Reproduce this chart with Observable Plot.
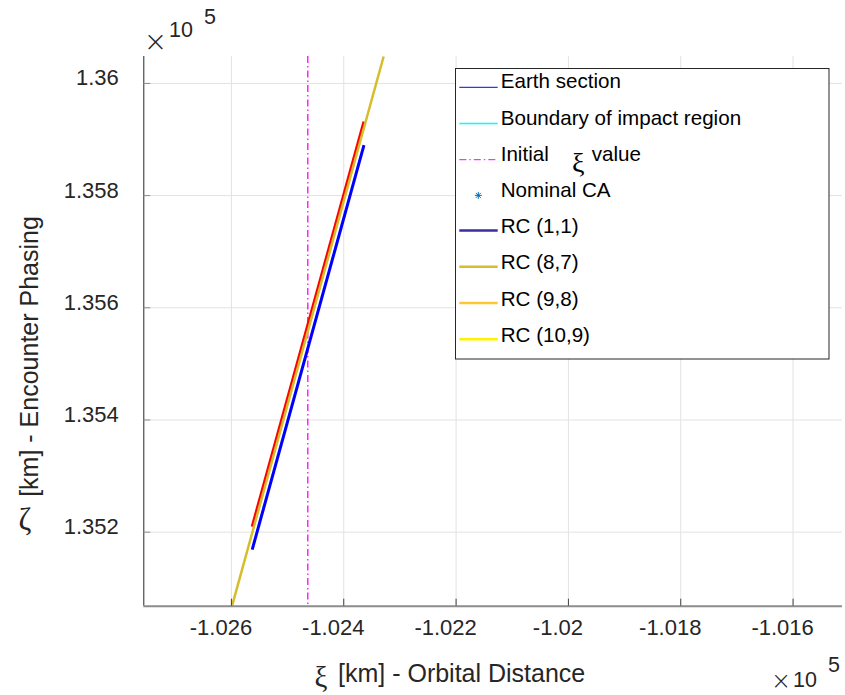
<!DOCTYPE html>
<html>
<head>
<meta charset="utf-8">
<script src="https://cdn.jsdelivr.net/npm/d3@7"></script>
<script src="https://cdn.jsdelivr.net/npm/@observablehq/plot@0.6"></script>
<style>
  html, body { margin: 0; padding: 0; background: #ffffff; }
  svg { display: block; }
</style>
</head>
<body>
<script>
// ---------- data (km) ----------
const xiTicks = [-102600, -102400, -102200, -102000, -101800, -101600];
const zetaTicks = [135200, 135400, 135600, 135800, 136000];
const xiDomain = [-102756, -101512];
const zetaDomain = [135068, 136048];

const initialXi = [-102464];

// RC (8,7) long line (gold)
const rc87Xi = [-102599, -102329];
const rc87Zeta = [135068, 136048];
// red segment
const redXi = [-102563, -102364];
const redZeta = [135210, 135932];
// blue segment
const blueXi = [-102563, -102364];
const blueZeta = [135169, 135890];

const legendLabels = ["Earth section", "Boundary of impact region", "Initial", "Nominal CA",
  "RC (1,1)", "RC (8,7)", "RC (9,8)", "RC (10,9)"];
const legendColors = ["#0000FF", "#00FFFF", "#FF00FF", "#0072BD",
  "#3A2E9E", "#D6BD2C", "#FFC533", "#FFF200"];
const legendWidths = [1, 1.5, 1, 0, 2.5, 2.5, 2.5, 2.5];

// ---------- helpers ----------
const toTable = (xs, ys) => xs.map((x, i) => ({x, y: ys[i]}));
const fmtXi = d => String(+(d / 1e5).toFixed(3));
const fmtZeta = d => String(+(d / 1e5).toFixed(3));

const W = 845, H = 695;
const mL = 143.3, mR = 3, mT = 56, mB = 89.3;
const plotW = W - mL - mR, plotH = H - mT - mB;
const font = "'Liberation Sans', Arial, Helvetica, sans-serif";
const serif = "'Liberation Serif', 'Times New Roman', 'DejaVu Serif', serif";
const ink = "#262626";

const svg = Plot.plot({
  width: W, height: H,
  marginLeft: mL, marginRight: mR, marginTop: mT, marginBottom: mB,
  x: {domain: xiDomain, axis: null},
  y: {domain: zetaDomain, axis: null},
  style: {background: "#ffffff", fontFamily: font},
  marks: [
    // grid
    Plot.ruleX(xiTicks, {stroke: "#e2e2e2", strokeWidth: 1}),
    Plot.ruleY(zetaTicks, {stroke: "#e2e2e2", strokeWidth: 1}),
    // initial xi value
    Plot.ruleX(initialXi, {stroke: "#FF00FF", strokeWidth: 1.3, strokeDasharray: "7,3,1.5,3"}),
    // data lines
    Plot.line(toTable(blueXi, blueZeta), {x: "x", y: "y", stroke: "#0000FF", strokeWidth: 3, strokeLinecap: "butt", clip: true}),
    Plot.line(toTable(redXi, redZeta), {x: "x", y: "y", stroke: "#FF0000", strokeWidth: 3, strokeLinecap: "butt", clip: true}),
    Plot.line(toTable(rc87Xi, rc87Zeta), {x: "x", y: "y", stroke: "#D6BD2C", strokeWidth: 2.5, strokeLinecap: "butt", clip: true}),
    // axis lines
    Plot.ruleX([xiDomain[0]], {stroke: ink, strokeWidth: 1}),
    Plot.ruleY([zetaDomain[0]], {stroke: "#8c8c8c", strokeWidth: 2}),
    // inward ticks
    Plot.ruleX(xiTicks, {stroke: "#404040", strokeWidth: 1, insetTop: plotH - 7}),
    Plot.ruleY(zetaTicks, {stroke: "#8c8c8c", strokeWidth: 1, insetRight: plotW - 7}),
    // tick labels
    Plot.text(xiTicks, {x: d => d, frameAnchor: "bottom", text: fmtXi, dy: 22, dx: -10.5,
      fontSize: 22, fill: ink, lineAnchor: "middle"}),
    Plot.text(zetaTicks, {y: d => d, frameAnchor: "left", text: fmtZeta, dx: -25, dy: -5,
      textAnchor: "end", fontSize: 22, fill: ink, lineAnchor: "middle"})
  ]
});

document.body.appendChild(svg);

const g = d3.select(svg).append("g").attr("font-family", font).attr("text-anchor", "start");

function txt(x, y, s, opts = {}) {
  const t = g.append("text")
    .attr("x", x).attr("y", y)
    .attr("font-size", opts.size || 20)
    .attr("fill", opts.fill || ink)
    .attr("font-family", opts.family || font)
    .attr("text-anchor", opts.anchor || "start")
    .text(s);
  if (opts.baseline) t.attr("dominant-baseline", opts.baseline);
  if (opts.weight) t.attr("font-weight", opts.weight);
  if (opts.transform) t.attr("transform", opts.transform);
  return t;
}

// axis labels
txt(314.5, 687, "ξ", {size: 29, family: serif});
txt(338, 682, "[km] - Orbital Distance", {size: 25});
txt(0, 0, "[km] - Encounter Phasing", {size: 25, anchor: "middle", transform: "translate(38,356.5) rotate(-90)"});
txt(18.5, 530, "ζ", {size: 31, family: serif});

// exponent markers
txt(155.5, 41.5, "×", {size: 28, anchor: "middle", baseline: "central", family: "'DejaVu Sans', sans-serif", weight: 200});
txt(169, 36.7, "10", {size: 21.5});
txt(204, 24, "5", {size: 21.5});
txt(781, 680.5, "×", {size: 24, anchor: "middle", baseline: "central", family: "'DejaVu Sans', sans-serif", weight: 200});
txt(793, 687, "10", {size: 21.5});
txt(828, 672, "5", {size: 21.5});

// legend
const lg = g.append("g");
lg.append("rect").attr("x", 455.5).attr("y", 68.5).attr("width", 373.5).attr("height", 290.5)
  .attr("fill", "#ffffff").attr("stroke", ink).attr("stroke-width", 1);
legendLabels.forEach((label, i) => {
  const base = 88.3 + i * 36.2;
  const ly = base - 1 - (legendWidths[i] > 2 ? 1.5 : 0);
  if (i === 3) {
    const cx = 478.3, cy = base - 1.5, r = 3.5;
    const p = `M${cx - r},${cy}L${cx + r},${cy}M${cx},${cy - r}L${cx},${cy + r}` +
      `M${cx - r * 0.7},${cy - r * 0.7}L${cx + r * 0.7},${cy + r * 0.7}` +
      `M${cx - r * 0.7},${cy + r * 0.7}L${cx + r * 0.7},${cy - r * 0.7}`;
    lg.append("path").attr("d", p).attr("stroke", legendColors[i]).attr("stroke-width", 1).attr("fill", "none");
  } else {
    const ln = lg.append("line").attr("x1", 459.3).attr("x2", 497.7).attr("y1", ly).attr("y2", ly)
      .attr("stroke", legendColors[i]).attr("stroke-width", legendWidths[i]);
    if (i === 2) ln.attr("stroke-dasharray", "7,3,1.5,3");
  }
  txt(500.7, base, label, {size: 20.6, fill: "#000000"});
});
// "Initial ξ value"
txt(572, 172, "ξ", {size: 28, family: serif, fill: "#000000"});
txt(591.7, 88.3 + 2 * 36.2, "value", {size: 20.6, fill: "#000000"});
</script>
</body>
</html>
